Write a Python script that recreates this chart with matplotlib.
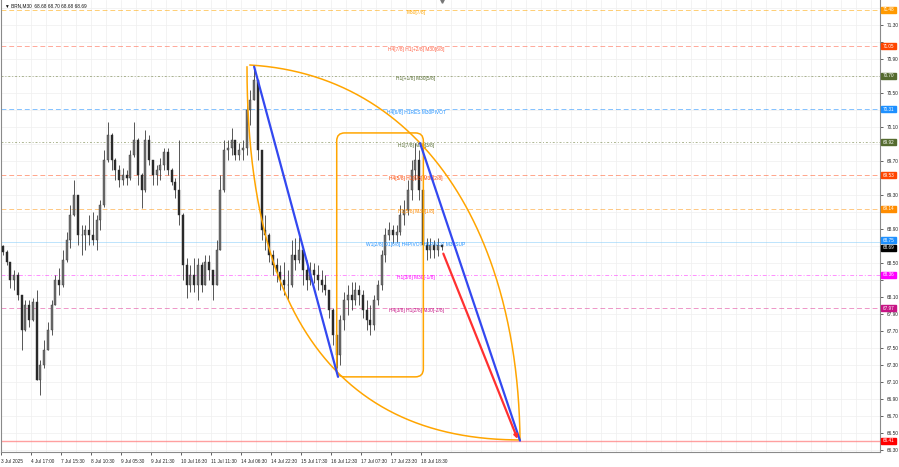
import numpy as np
import matplotlib
matplotlib.use("Agg")
import matplotlib.pyplot as plt
from matplotlib.patches import FancyBboxPatch, Rectangle
import matplotlib.transforms as mtransforms

plt.rcParams['font.family'] = ['Liberation Sans', 'DejaVu Sans']

# ---------------- data ----------------
title = "BRN,M30  68.68 68.70 68.68 68.69"

first_open = 68.70
highs = [68.71, 68.65, 68.51, 68.42, 68.39, 68.12, 68.07, 68.07, 68.09, 68.18,
         67.36, 67.59, 67.81, 68.07, 68.36, 68.44, 68.65, 68.87, 69.18, 69.48,
         69.30, 68.95, 68.95, 69.07, 69.10, 69.07, 69.24, 69.83, 70.16, 70.03,
         69.74, 69.65, 69.62, 69.59, 69.83, 70.16, 69.97, 69.56, 70.07, 70.01,
         69.71, 69.65, 69.74, 69.85, 69.85, 69.62, 69.50, 69.95, 69.09, 68.56,
         68.48, 68.56, 68.56, 68.51, 68.59, 68.59, 68.42, 68.77, 69.54, 69.95,
         69.95, 70.09, 69.95, 69.91, 69.95, 70.48, 70.54, 70.81, 70.65, 69.83,
         69.07, 68.85, 68.65, 68.56, 68.48, 68.51, 68.42, 68.77, 68.79, 68.81,
         68.67, 68.54, 68.51, 68.50, 68.48, 68.42, 68.36, 68.18, 67.97, 67.65,
         67.89, 68.16, 68.24, 68.28, 68.28, 68.24, 68.18, 68.07, 68.01, 68.12,
         68.30, 68.65, 68.91, 68.98, 68.95, 68.95, 69.18, 69.24, 69.48, 69.71,
         69.91, 69.83, 69.38, 68.79, 68.79, 68.77, 68.79, 68.72]
lows = [68.59, 68.48, 68.21, 68.18, 68.07, 67.48, 67.70, 67.75, 67.82, 67.12,
        66.95, 67.27, 67.48, 67.65, 68.01, 68.12, 68.22, 68.51, 68.68, 69.05,
        68.71, 68.59, 68.65, 68.71, 68.71, 68.65, 68.89, 69.16, 69.69, 69.59,
        69.48, 69.39, 69.42, 69.42, 69.48, 69.75, 69.42, 69.15, 69.34, 69.65,
        69.42, 69.42, 69.48, 69.59, 69.54, 69.42, 69.27, 68.95, 68.30, 68.09,
        68.16, 68.16, 68.07, 68.16, 68.24, 68.30, 68.07, 68.24, 68.65, 69.34,
        69.71, 69.77, 69.71, 69.71, 69.71, 69.77, 70.12, 70.42, 69.71, 68.77,
        68.65, 68.51, 68.36, 68.28, 68.18, 68.12, 68.07, 68.22, 68.42, 68.50,
        68.24, 68.18, 68.24, 68.27, 68.18, 68.16, 68.12, 67.85, 67.53, 67.27,
        67.30, 67.71, 67.89, 67.95, 68.01, 68.01, 67.85, 67.71, 67.65, 67.71,
        68.01, 68.18, 68.51, 68.77, 68.74, 68.75, 68.83, 68.95, 69.07, 69.24,
        69.48, 69.24, 68.59, 68.54, 68.56, 68.56, 68.58, 68.65]
closes = [68.63, 68.51, 68.30, 68.36, 68.12, 67.71, 68.01, 67.83, 68.04, 67.12,
          67.30, 67.48, 67.71, 68.01, 68.30, 68.24, 68.54, 68.77, 69.07, 69.30,
          68.83, 68.83, 68.89, 68.83, 68.77, 69.01, 69.18, 69.71, 70.01, 69.71,
          69.59, 69.48, 69.54, 69.50, 69.77, 69.95, 69.54, 69.36, 69.95, 69.71,
          69.54, 69.59, 69.65, 69.81, 69.59, 69.45, 69.36, 69.07, 68.48, 68.24,
          68.36, 68.24, 68.48, 68.24, 68.51, 68.42, 68.24, 68.65, 69.36, 69.83,
          69.85, 69.95, 69.77, 69.83, 69.85, 70.30, 70.42, 70.65, 69.83, 68.89,
          68.83, 68.59, 68.48, 68.39, 68.30, 68.24, 68.24, 68.59, 68.54, 68.65,
          68.42, 68.30, 68.42, 68.36, 68.30, 68.24, 68.18, 67.95, 67.65, 67.42,
          67.83, 68.07, 68.12, 68.07, 68.18, 68.12, 67.95, 67.83, 67.77, 68.07,
          68.24, 68.59, 68.83, 68.89, 68.83, 68.87, 69.07, 69.12, 69.36, 69.59,
          69.71, 69.36, 68.71, 68.65, 68.71, 68.65, 68.71, 68.69]

bars_per_candle = 4          # each drawn candle groups 4 M30 bars
bars_per_label = 32
date_labels = ["3 Jul 2025", "4 Jul 17:00", "7 Jul 15:30", "8 Jul 10:30",
               "9 Jul 05:30", "9 Jul 21:30", "10 Jul 16:30", "11 Jul 11:30",
               "14 Jul 06:30", "14 Jul 22:30", "15 Jul 17:30", "16 Jul 12:30",
               "17 Jul 07:30", "17 Jul 23:30", "18 Jul 18:30"]

levels = [71.48, 71.05, 70.70, 70.31, 69.92, 69.53, 69.14, 68.75, 68.36, 67.97]
level_texts = ["M30[7/8]", "H4[7/8] H1[+2/8] M30[6/8]", "H1[+1/8] M30[5/8]",
               "H4[6/8] H1RES M30PIVOT", "H1[7/8] M30[3/8]",
               "H4[5/8] H1[6/8] M30[2/8]", "H1[5/8] M30[1/8]",
               "W1[2/8] D1[6/8] H4PIVOT H1PIVOT M30SUP", "H1[3/8] M30[-1/8]",
               "H4[3/8] H1[2/8] M30[-2/8]"]
level_colors = ["#FFA500", "#FF6347", "#6B7B3A", "#1E90FF", "#6B7B3A",
                "#FF5A2A", "#FF9A1A", "#87CEFA", "#FF33FF", "#E0409A"]
text_colors = ["#FFA500", "#FF6347", "#556B2F", "#1E90FF", "#556B2F",
               "#FF4500", "#FF8C00", "#1E90FF", "#FF00FF", "#C71585"]
level_styles = [(0, (5, 3)), (0, (5, 3)), (0, (2, 2, 1, 2)), (0, (5, 3)),
                (0, (2, 2, 1, 2)), (0, (5, 3)), (0, (5, 3)), "solid",
                (0, (4, 2, 1, 2)), (0, (5, 3))]
box_colors = ["#FF9900", "#FF4500", "#556B2F", "#1E90FF", "#556B2F",
              "#FF4500", "#FF8C00", "#1E90FF", "#FF00FF", "#C71585"]
current_price = 68.69
target_price = 66.41

# drawn objects (bar index, price)
trend1 = [(270.0, 70.81), (359.5, 67.16)]
trend2 = [(447.0, 69.91), (553.6, 66.41)]
proj_arrow = [(471.8, 68.61), (551.0, 66.43)]
box_x = (358.1, 450.5)
box_y = (67.16, 70.03)
arc_left = [(262.4, 70.806), (262.4, 67.947), (356.3, 66.418), (553.6, 66.418)]
arc_right = [(265.6, 70.829), (446.9, 70.712), (551.5, 68.888), (553.6, 66.418)]

# ---------------- figure ----------------
W, H = 899, 467
fig = plt.figure(figsize=(W / 100, H / 100), dpi=100)
ax = fig.add_axes([1 / W, 15 / H, 879 / W, 452 / H])
x_max = 937.6
ax.set_xlim(0, x_max)
ax.set_ylim(66.276, 71.594)

yticks = np.round(np.arange(66.30, 71.51, 0.2), 2)
# grid
for b in np.arange(0, x_max, 16):
    ax.axvline(b, color="#efefef", lw=0.5, zorder=0)
for t in yticks:
    ax.axhline(t, color="#efefef", lw=0.5, zorder=0)

# levels
for lv, c, ls, txt, tc in zip(levels, level_colors, level_styles, level_texts, text_colors):
    ax.axhline(lv, color=c, ls=ls, lw=0.7, alpha=0.55, zorder=1)
    ax.text(442.7, lv - 0.035, txt, color=tc, fontsize=3.5, ha="center",
            va="center", zorder=4)
ax.axhline(target_price, color="#FF8080", lw=1.0, alpha=0.75, zorder=1)

# candles
n = len(closes)
xs = np.arange(n) * bars_per_candle + bars_per_candle / 2
opens = [first_open] + closes[:-1]
ax.vlines(xs, lows, highs, color="#3a3a3a", lw=0.6, zorder=3)
heights = np.array(closes) - np.array(opens)
up = heights >= 0
ax.bar(xs[up], heights[up], bottom=np.array(opens)[up], width=2.2,
       color="#707070", edgecolor="#3a3a3a", lw=0.3, zorder=3)
ax.bar(xs[~up], heights[~up], bottom=np.array(opens)[~up], width=2.2,
       color="#2a2a2a", edgecolor="#2a2a2a", lw=0.3, zorder=3)

# arcs
def bezier(pts, num=300):
    t = np.linspace(0, 1, num)[:, None]
    p = np.array(pts)
    return ((1 - t) ** 3 * p[0] + 3 * (1 - t) ** 2 * t * p[1]
            + 3 * (1 - t) * t ** 2 * p[2] + t ** 3 * p[3])

orange = "#FFA500"
for arc in (arc_left, arc_right):
    pts = bezier(arc)
    ax.plot(pts[:, 0], pts[:, 1], color=orange, lw=1.1, zorder=5)

# rounded box
box = FancyBboxPatch((box_x[0], box_y[0]), box_x[1] - box_x[0], box_y[1] - box_y[0],
                     boxstyle="round,pad=0,rounding_size=8.5", mutation_aspect=0.0111,
                     ec=orange, fc="none", lw=1.1, zorder=5)
ax.add_patch(box)

# trend lines
blue = "#3348F0"
for seg in (trend1, trend2):
    ax.plot([seg[0][0], seg[1][0]], [seg[0][1], seg[1][1]], color=blue, lw=1.6,
            zorder=6, solid_capstyle="round")
ax.annotate("", xy=proj_arrow[1], xytext=proj_arrow[0],
            arrowprops=dict(arrowstyle="-|>", color="#FF3030", lw=1.6,
                            mutation_scale=5, shrinkA=0, shrinkB=0), zorder=6)

# axes styling
ax.spines["top"].set_visible(False)
for s in ["left", "right", "bottom"]:
    ax.spines[s].set_color("#8a8a8a")
    ax.spines[s].set_linewidth(0.8)

box_prices = levels + [current_price, target_price]
ax.yaxis.tick_right()
ax.set_yticks(yticks)
ax.set_yticklabels(["" if min(abs(t - p) for p in box_prices) < 0.065 else f"{t:.2f}"
                    for t in yticks])
ax.tick_params(axis="y", length=2, width=0.5, pad=2.5, labelsize=3.4,
               colors="#222222")
ax.set_xticks(np.arange(len(date_labels)) * bars_per_label)
ax.set_xticklabels(date_labels, ha="left")
ax.tick_params(axis="x", length=2, width=0.5, pad=3, labelsize=3.4, colors="#222222")

# right-side price boxes
trans = mtransforms.blended_transform_factory(ax.transAxes, ax.transData)
bw = 15 / 879
bh = 6 / 85
def price_box(price, color, dy=0.0):
    ax.add_patch(Rectangle((1.0015, price + dy - bh / 2), bw, bh, transform=trans,
                           clip_on=False, color=color, zorder=7))
    ax.text(1.0015 + bw / 2, price + dy, f"{price:.2f}", transform=trans, color="white",
            fontsize=3.3, ha="center", va="center", zorder=8, clip_on=False)

for lv, c in zip(levels, box_colors):
    price_box(lv, c, 0.02 if lv == 68.75 else 0.0)
price_box(current_price, "#000000", -0.01)
price_box(target_price, "#FF0000")

# title and chart-shift marker
ax.text(0.0045, 0.988, "\u25BC " + title, transform=ax.transAxes, fontsize=3.4,
        va="center", ha="left", color="#111111")
ax.plot([xs[-1]], [71.585], marker="v", ms=2.5, color="#777777", clip_on=False,
        zorder=8)

fig.savefig("out.png", dpi=100)
